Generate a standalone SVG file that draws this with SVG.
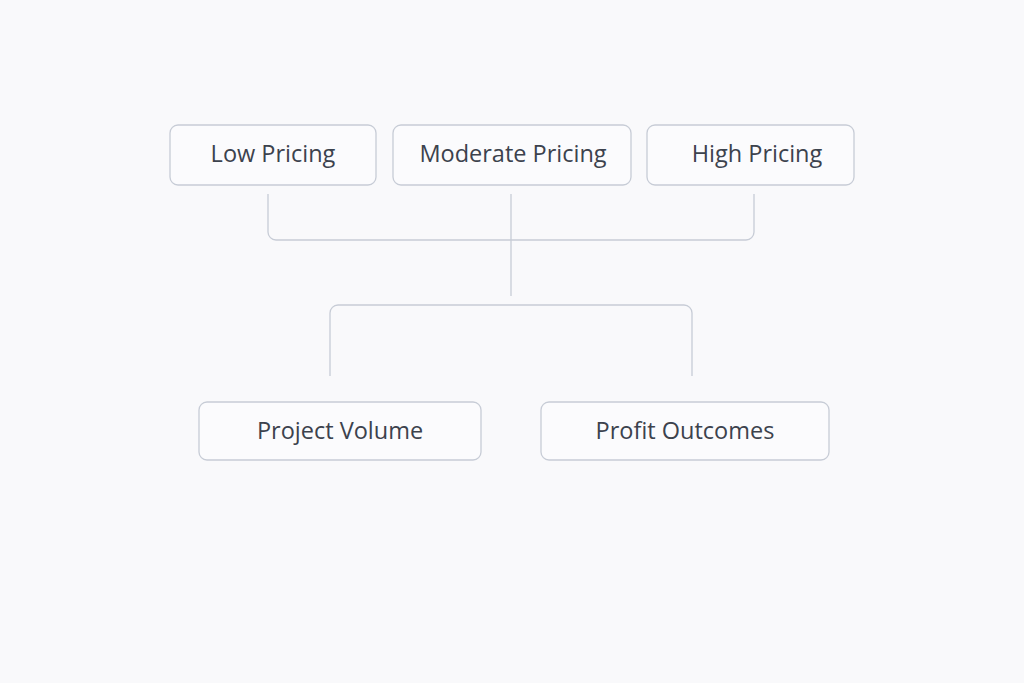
<svg xmlns="http://www.w3.org/2000/svg" width="1024" height="683" viewBox="0 0 1024 683">
<style>
.box{fill:#fbfbfd;stroke:#c7ccd6;stroke-width:1.3}
.lbl{font-family:"Open Sans","Noto Sans",sans-serif;font-size:23.5px;fill:#3c424d;text-anchor:middle}
.conn{fill:none;stroke:#c7ccd6;stroke-width:1.3}
</style>
<rect width="1024" height="683" fill="#f9f9fb"/>
<g id="connectors">
<path class="conn" d="M268,194 V232 a8,8 0 0 0 8,8 H746 a8,8 0 0 0 8,-8 V194"/>
<path class="conn" d="M511,194 V296"/>
<path class="conn" d="M330,376 V313 a8,8 0 0 1 8,-8 H684 a8,8 0 0 1 8,8 V376"/>
</g>
<g id="low"><rect class="box" x="170" y="125" width="206" height="60" rx="8"/><text class="lbl" x="273" y="162">Low Pricing</text></g>
<g id="moderate"><rect class="box" x="393" y="125" width="238" height="60" rx="8"/><text class="lbl" x="513" y="162">Moderate Pricing</text></g>
<g id="high"><rect class="box" x="647" y="125" width="207" height="60" rx="8"/><text class="lbl" x="757" y="162">High Pricing</text></g>
<g id="volume"><rect class="box" x="199" y="402" width="282" height="58" rx="8"/><text class="lbl" x="340" y="439">Project Volume</text></g>
<g id="profit"><rect class="box" x="541" y="402" width="288" height="58" rx="8"/><text class="lbl" x="685" y="439">Profit Outcomes</text></g>
</svg>
